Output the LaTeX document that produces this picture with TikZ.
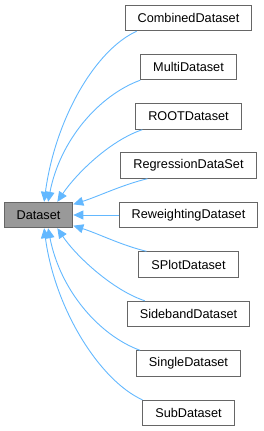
\documentclass[tikz,border=0pt]{standalone}
\usepackage{fontspec}
\setmainfont{Liberation Sans}
\usetikzlibrary{arrows.meta}
\definecolor{edgeblue}{HTML}{63B8FF}
\definecolor{boxline}{HTML}{666666}
\definecolor{basefill}{HTML}{999999}

\begin{document}
\begin{tikzpicture}[x=1pt,y=-1pt,
  cls/.style={draw=boxline,line width=0.9pt,fill=white,minimum height=25.5pt,
    inner xsep=12.5pt,inner ysep=0pt,font=\fontsize{12.7}{14}\selectfont},
  inh/.style={edgeblue,line width=0.9pt,{Triangle[length=10pt,width=9pt]}-}]
  \useasboundingbox (0,0) rectangle (263,431);
  % base class
  \node[cls,fill=basefill] (dataset) at (38.5,215) {Dataset};
  % derived classes
  \foreach \name/\y in {CombinedDataset/18,MultiDataset/67,ROOTDataset/116.5,
      RegressionDataSet/165.5,ReweightingDataset/215,SPlotDataset/264.5,
      SidebandDataset/314,SingleDataset/363.5,SubDataset/413}
    \node[cls] (\name) at (188.5,\y) {\name};
  % inheritance edges
  \draw[inh] (dataset.67) .. controls +(11,-82) and +(-42,19) .. ([xshift=12pt]CombinedDataset.south west);
  \draw[inh] (dataset.54) .. controls +(12,-62) and +(-41,15) .. (MultiDataset.south west);
  \draw[inh] (dataset.35) .. controls +(18,-27) and +(-33,11) .. ([xshift=7pt]ROOTDataset.south west);
  \draw[inh] (dataset.17) .. controls +(25,-8) and +(-25,6) .. ([xshift=27pt]RegressionDataSet.south west);
  \draw[inh] (dataset.east) -- (ReweightingDataset.west);
  \draw[inh] (dataset.-17) .. controls +(25,8) and +(-25,-6) .. ([xshift=8pt]SPlotDataset.north west);
  \draw[inh] (dataset.-35) .. controls +(18,27) and +(-33,-11) .. ([xshift=18pt]SidebandDataset.north west);
  \draw[inh] (dataset.-54) .. controls +(12,62) and +(-41,-15) .. ([xshift=4pt]SingleDataset.north west);
  \draw[inh] (dataset.-67) .. controls +(11,82) and +(-42,-19) .. (SubDataset.north west);
\end{tikzpicture}
\end{document}
